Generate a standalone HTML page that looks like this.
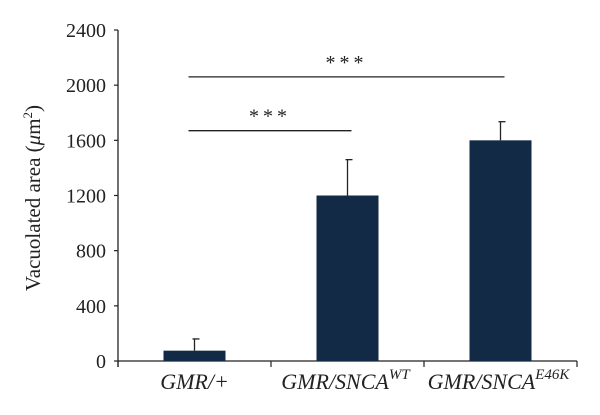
<!DOCTYPE html>
<html><head><meta charset="utf-8"><style>
body{margin:0;background:#fff}
svg{display:block;font-family:"Liberation Serif",serif}
</style></head><body>
<svg width="600" height="415" id="c">
<g id="g"></g>
</svg>
<script>
const categories=["GMR/+","GMR/SNCA","GMR/SNCA"];
const catSup=["","WT","E46K"];
const values=[75,1200,1600];
const errors=[85,260,135];
const yTicks=[0,400,800,1200,1600,2000,2400];
const sig=[{a:0,b:1,lvl:1670,label:"***"},{a:0,b:2,lvl:2060,label:"***"}];
const NS="http://www.w3.org/2000/svg";
const g=document.getElementById('g');
const x0=118,x1=577,y0=361,yTop=30,yMax=2400;
const y=v=>y0-(v/yMax)*(y0-yTop);
const band=(x1-x0)/categories.length;
const cx=i=>x0+band*(i+0.5);
const bw=62;
function mk(t,a){const e=document.createElementNS(NS,t);for(const k in a)e.setAttribute(k,a[k]);g.appendChild(e);return e;}
let e;
e=mk('line',{x1:x0,y1:yTop,x2:x0,y2:y0+6,stroke:'#222','stroke-width':1.3});


e=mk('line',{x1:x0,y1:y0,x2:x1,y2:y0,stroke:'#222','stroke-width':1.3});


yTicks.forEach(t=>{
 e=mk('line',{x1:x0-4,y1:y(t),x2:x0,y2:y(t),stroke:'#222','stroke-width':1.2});
 
 
 e=mk('text',{x:x0-12,y:y(t)+7,'text-anchor':'end','font-size':20,fill:'#222'});
 e.textContent=t;
 
 
});
for(let i=0;i<=categories.length;i++){
 e=mk('line',{x1:x0+band*i,y1:y0,x2:x0+band*i,y2:y0+6,stroke:'#222','stroke-width':1.2});
 
 
}
categories.forEach((c,i)=>{
 e=mk('line',{x1:cx(i),y1:y(values[i]),x2:cx(i),y2:y(values[i]+errors[i]),stroke:'#222','stroke-width':1.3});
 
 
 e=mk('line',{x1:cx(i)-2,y1:y(values[i]+errors[i]),x2:cx(i)+5,y2:y(values[i]+errors[i]),stroke:'#222','stroke-width':1.3});
 
 
 e=mk('rect',{x:cx(i)-bw/2,y:y(values[i]),width:bw,height:y0-y(values[i]),fill:'#132a47'});
 
 
 e=mk('text',{x:cx(i)+(i?-2:0),y:389,'text-anchor':'middle','font-size':22,'font-style':'italic',fill:'#222'});
 e.innerHTML=c+(catSup[i]?'<tspan font-size="15" dy="-10">'+catSup[i]+'</tspan>':'');
 
 
});
sig.forEach(s=>{
 const xa=cx(s.a)-6,xb=cx(s.b)+4;
 e=mk('line',{x1:xa,y1:y(s.lvl),x2:xb,y2:y(s.lvl),stroke:'#222','stroke-width':1.3});
 
 
 e=mk('text',{x:(xa+xb)/2,y:y(s.lvl)-8,'text-anchor':'middle','font-size':20,'letter-spacing':4,fill:'#222'});
 e.textContent=s.label;
 
 
});
e=mk('text',{x:0,y:0,transform:'translate(40,198) rotate(-90)','text-anchor':'middle','font-size':21,fill:'#222'});
e.innerHTML='Vacuolated area (<tspan font-style="italic">μ</tspan>m<tspan font-size="13" dy="-8">2</tspan><tspan dy="8">)</tspan>';


</script>
</body></html>
